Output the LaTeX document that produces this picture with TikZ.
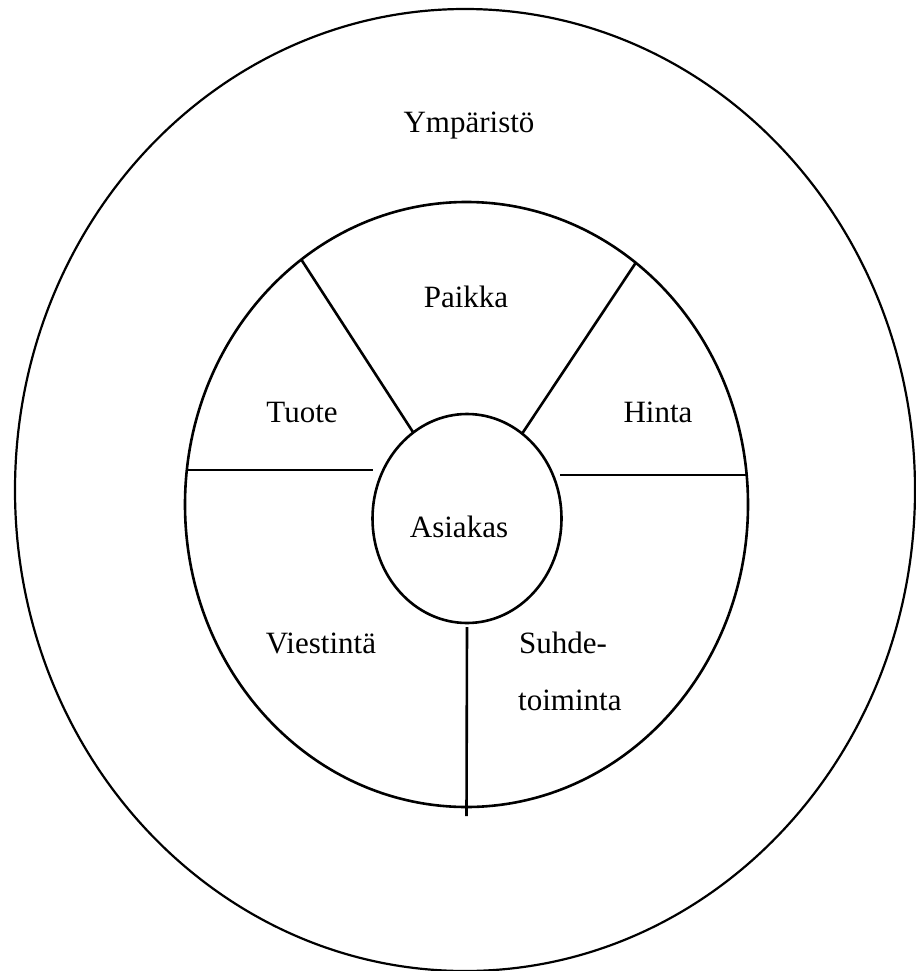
\documentclass[tikz,border=0pt]{standalone}
\usepackage{fontspec}
\setmainfont{Liberation Serif}
\usepackage{tikz}
\usetikzlibrary{positioning, shapes.geometric, calc}

\tikzset{
  ring/.style={draw, ellipse, inner sep=0pt, outer sep=0pt, line width=2.6pt},
  spoke/.style={line width=2.6pt},
  lbl/.style={font=\fontsize{31}{37}\selectfont, anchor=base, inner sep=0pt}
}

\begin{document}
\begin{tikzpicture}[x=1pt, y=-1pt]
  \useasboundingbox (0,0) rectangle (915,971);

  % three rings
  \node[ring, line width=2.2pt, minimum width=900pt, minimum height=962pt] (env) at (465,490) {};
  \node[ring, minimum width=563pt, minimum height=605pt] (mix) at (466.5,504.5) {};
  \node[ring, minimum width=189pt, minimum height=209pt] (core) at (467,518.5) {};

  % dividers of the middle ring
  \draw[spoke] (mix.124.7) -- (core.122.5);
  \draw[spoke] (mix.55.2) -- (core.57.1);
  \draw[spoke] (mix.173.6) -- (mix.173.6 -| core.west);
  \draw[spoke] (mix.6.4) -- ($(mix.6.4 -| core.east)+(-1.5,0)$);
  \draw[spoke] ([yshift=-4pt]core.south) -- ([yshift=-9pt]mix.south);

  % labels
  \node[lbl] (ymparisto) at (469,132) {Ympäristö};
  \node[lbl] (paikka) at (466,307) {Paikka};
  \node[lbl] (tuote) at (302,422) {Tuote};
  \node[lbl] (hinta) at (658,422) {Hinta};
  \node[lbl] (asiakas) at (459,537) {Asiakas};
  \node[lbl] (viestinta) at (321,653) {Viestintä};
  \node[lbl, anchor=base west] (suhde) at (519,653) {Suhde-};
  \node[lbl, anchor=base west] (toiminta) at (518,710) {toiminta};
\end{tikzpicture}
\end{document}
